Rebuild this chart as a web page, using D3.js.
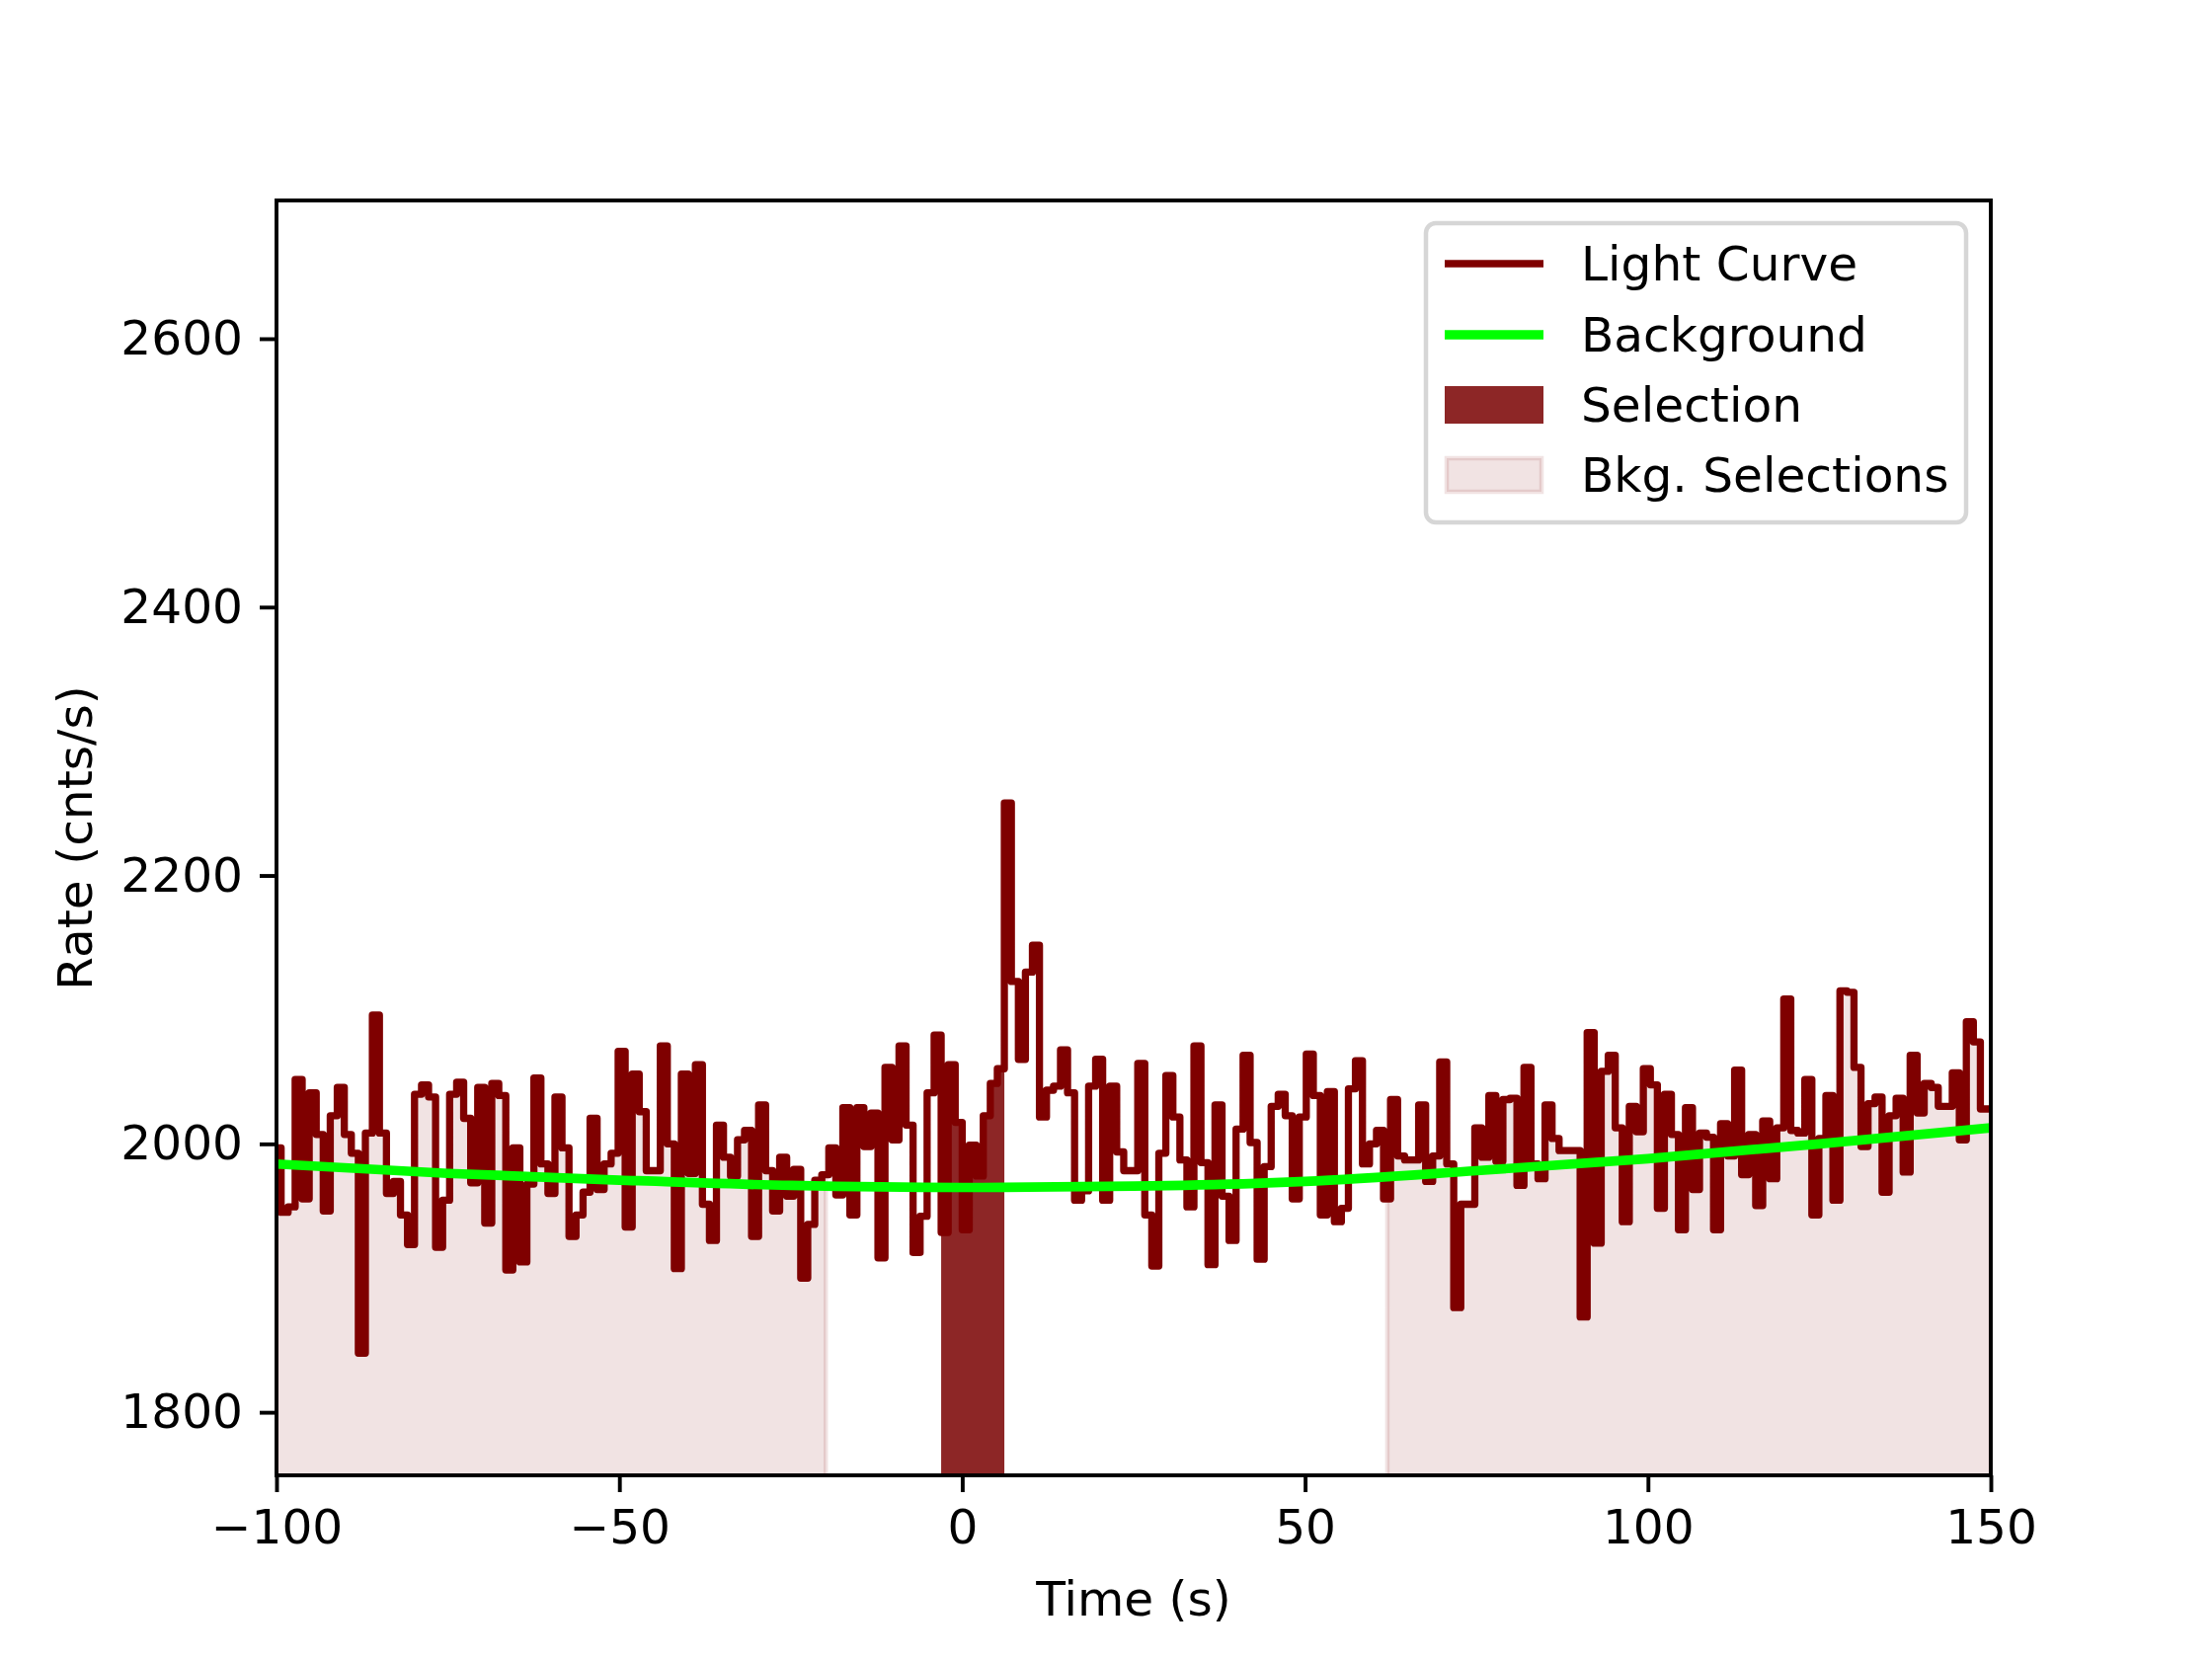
<!DOCTYPE html>
<html>
<head>
  <meta charset="utf-8">
  <script src="https://cdn.jsdelivr.net/npm/d3@7"></script>
  <style>
    html, body {
      background: #fff;
      margin: 0;
    }
    svg {
      font-family: "DejaVu Sans", sans-serif;
    }
  </style>
</head>
<body>
  <svg id="chart" width="2240" height="1680"></svg>

  <script>
  // binned light curve, 1.024 s bins
  var binStart = -100.352,
      binWidth = 1.024;

  var rates = [
    1997, 1949, 1953, 2048, 1959, 2038, 2007, 1950, 2021, 2042,
    2007, 1993, 1844, 2008, 2096, 2008, 1963, 1972, 1947, 1925,
    2037, 2044, 2035, 1923, 1958, 2037, 2046, 2019, 1971, 2042,
    1941, 2045, 2036, 1906, 1997, 1912, 1970, 2049, 1985, 1963,
    2035, 1997, 1931, 1947, 1964, 2019, 1966, 1985, 1993, 2069,
    1938, 2052, 2024, 1980, 1980, 2073, 2000, 1907, 2052, 1978,
    2059, 1955, 1928, 2014, 1990, 1976, 2003, 2010, 1931, 2029,
    1980, 1950, 1990, 1961, 1981, 1900, 1940, 1973, 1977, 1997,
    1962, 2027, 1947, 2027, 1998, 2023, 1915, 2057, 2003, 2073,
    2014, 1919, 1946, 2038, 2081, 1934, 2059, 2016, 1936, 1999,
    1976, 2021, 2045, 2056, 2254, 2121, 2063, 2128, 2148, 2020,
    2040, 2043, 2070, 2038, 1958, 1965, 2043, 2063, 1958, 2043,
    1994, 1980, 1980, 2060, 1947, 1909, 1993, 2051, 2020, 1988,
    1953, 2073, 1986, 1910, 2029, 1961, 1928, 2011, 2066, 2001,
    1914, 1983, 2028, 2037, 2021, 1959, 2020, 2067, 2036, 1947,
    2039, 1942, 1952, 2041, 2062, 1985, 2000, 2010, 1959, 2033,
    1991, 1988, 1988, 2029, 1972, 1991, 2061, 1985, 1878, 1955,
    1955, 2012, 1990, 2036, 1987, 2033, 2034, 1969, 2057, 1985,
    1974, 2029, 2004, 1995, 1995, 1995, 1871, 2083, 1926, 2054,
    2066, 2012, 1942, 2028, 2009, 2056, 2044, 1952, 2037, 2007,
    1936, 2027, 1966, 2008, 2005, 1936, 2015, 1991, 2055, 1977,
    2007, 1954, 2017, 1974, 2012, 2108, 2010, 2008, 2048, 1947,
    2004, 2036, 1958, 2114, 2113, 2057, 1998, 2030, 2035, 1964,
    2021, 2034, 1979, 2066, 2023, 2045, 2042, 2028, 2028, 2053,
    2003, 2091, 2076, 2026, 2026
  ];

  // background model
  var bkgTimes = [-100, -75, -50, -25, 0, 25, 50, 75, 100, 125, 150];
  var bkgRates = [1985, 1978, 1973, 1969, 1967.5, 1968.5, 1972, 1980, 1989, 2000, 2012];

  var selection = [-3.072, 6.144];
  var bkgSelections = [[-100, -19.9], [62, 150]];

  var xTicks = [-100, -50, 0, 50, 100, 150],
      yTicks = [1800, 2000, 2200, 2400, 2600];

  var legendLabels = ["Light Curve", "Background", "Selection", "Bkg. Selections"];

  var dataColor = "#7f0000",
      bkgColor = "#00ff00",
      selColor = "#8d2626",
      bkgFill = "rgba(127, 0, 0, 0.11)";

  var fontSize = 48.6,
      dataWidth = 7.3,
      bkgWidth = 9.7;

  var margin = {left: 280, top: 203, right: 224, bottom: 186},
      width = 2240 - margin.left - margin.right,
      height = 1680 - margin.top - margin.bottom;

  var svg = d3.select("#chart");

  svg.append("rect")
      .attr("width", 2240)
      .attr("height", 1680)
      .attr("fill", "#fff");

  var g = svg.append("g")
      .attr("transform", "translate(" + margin.left + "," + margin.top + ")");

  var x = d3.scaleLinear().domain([-100, 150]).range([0, width]),
      y = d3.scaleLinear().domain([1753, 2703]).range([height, 0]);

  var edges = d3.range(rates.length + 1).map(function(i) { return binStart + i * binWidth; });

  g.append("clipPath")
      .attr("id", "plot-clip")
    .append("rect")
      .attr("width", width)
      .attr("height", height);

  var plot = g.append("g").attr("clip-path", "url(#plot-clip)");

  // step points of the curve restricted to [a, b]
  function stepPoints(a, b) {
    var pts = [], last = null;
    for (var i = 0; i < rates.length; i++) {
      var lo = edges[i], hi = edges[i + 1];
      if (hi <= a || lo >= b) { continue; }
      pts.push([Math.max(lo, a), rates[i]]);
      last = [Math.min(hi, b), rates[i]];
    }
    if (last) { pts.push(last); }
    return pts;
  }

  var area = d3.area()
      .curve(d3.curveStepAfter)
      .x(function(d) { return x(d[0]); })
      .y0(height + 20)
      .y1(function(d) { return y(d[1]); });

  bkgSelections.forEach(function(iv) {
    plot.append("path")
        .attr("d", area(stepPoints(iv[0], iv[1])))
        .attr("fill", bkgFill)
        .attr("stroke", bkgFill)
        .attr("stroke-width", 4.5);
  });

  plot.append("path")
      .attr("d", area(stepPoints(selection[0], selection[1])))
      .attr("fill", selColor);

  var line = d3.line()
      .curve(d3.curveStepAfter)
      .x(function(d) { return x(d[0]); })
      .y(function(d) { return y(d[1]); });

  plot.append("path")
      .attr("d", line(stepPoints(edges[0], edges[edges.length - 1])))
      .attr("fill", "none")
      .attr("stroke", dataColor)
      .attr("stroke-width", dataWidth)
      .attr("stroke-linejoin", "round");

  var bkgLine = d3.line()
      .curve(d3.curveMonotoneX)
      .x(function(d, i) { return x(bkgTimes[i]); })
      .y(function(d) { return y(d); });

  plot.append("path")
      .attr("d", bkgLine(bkgRates))
      .attr("fill", "none")
      .attr("stroke", bkgColor)
      .attr("stroke-width", bkgWidth);

  // axes
  var fmt = d3.format("d");

  var xAxis = g.append("g")
      .attr("transform", "translate(0," + height + ")")
      .call(d3.axisBottom(x).tickValues(xTicks).tickFormat(fmt)
        .tickSize(17).tickPadding(17).tickSizeOuter(0));

  var yAxis = g.append("g")
      .call(d3.axisLeft(y).tickValues(yTicks).tickFormat(fmt)
        .tickSize(17).tickPadding(17).tickSizeOuter(0));

  [xAxis, yAxis].forEach(function(ax) {
    ax.select(".domain").remove();
    ax.selectAll(".tick line").attr("stroke", "#000").attr("stroke-width", 3.9);
    ax.selectAll(".tick text")
        .attr("fill", "#000")
        .style("font-family", "'DejaVu Sans', sans-serif")
        .style("font-size", fontSize + "px");
  });

  g.append("rect")
      .attr("width", width)
      .attr("height", height)
      .attr("fill", "none")
      .attr("stroke", "#000")
      .attr("stroke-width", 3.9);

  svg.append("text")
      .attr("x", margin.left + width / 2)
      .attr("y", 1636)
      .attr("text-anchor", "middle")
      .style("font-size", fontSize + "px")
      .text("Time (s)");

  svg.append("text")
      .attr("transform", "translate(93," + (margin.top + height / 2) + ") rotate(-90)")
      .attr("text-anchor", "middle")
      .style("font-size", fontSize + "px")
      .text("Rate (cnts/s)");

  // legend
  var legend = svg.append("g").attr("transform", "translate(1444,226)");

  legend.append("rect")
      .attr("width", 547)
      .attr("height", 303)
      .attr("rx", 10)
      .attr("fill", "rgba(255,255,255,0.8)")
      .attr("stroke", "#d6d6d6")
      .attr("stroke-width", 4.5);

  var rowY = [41, 113, 184, 255],
      hx0 = 19, hx1 = 119;

  legend.append("line")
      .attr("x1", hx0).attr("x2", hx1)
      .attr("y1", rowY[0]).attr("y2", rowY[0])
      .attr("stroke", dataColor)
      .attr("stroke-width", dataWidth);

  legend.append("line")
      .attr("x1", hx0).attr("x2", hx1)
      .attr("y1", rowY[1]).attr("y2", rowY[1])
      .attr("stroke", bkgColor)
      .attr("stroke-width", bkgWidth);

  legend.append("rect")
      .attr("x", hx0).attr("y", rowY[2] - 19)
      .attr("width", hx1 - hx0).attr("height", 38)
      .attr("fill", selColor);

  legend.append("rect")
      .attr("x", hx0 + 2).attr("y", rowY[3] - 17)
      .attr("width", hx1 - hx0 - 4).attr("height", 34)
      .attr("fill", bkgFill)
      .attr("stroke", bkgFill)
      .attr("stroke-width", 4.5);

  legend.selectAll("text.label")
      .data(legendLabels)
    .enter().append("text")
      .attr("class", "label")
      .attr("x", 157)
      .attr("y", function(d, i) { return rowY[i] + 17; })
      .style("font-size", fontSize + "px")
      .text(function(d) { return d; });
  </script>
</body>
</html>
